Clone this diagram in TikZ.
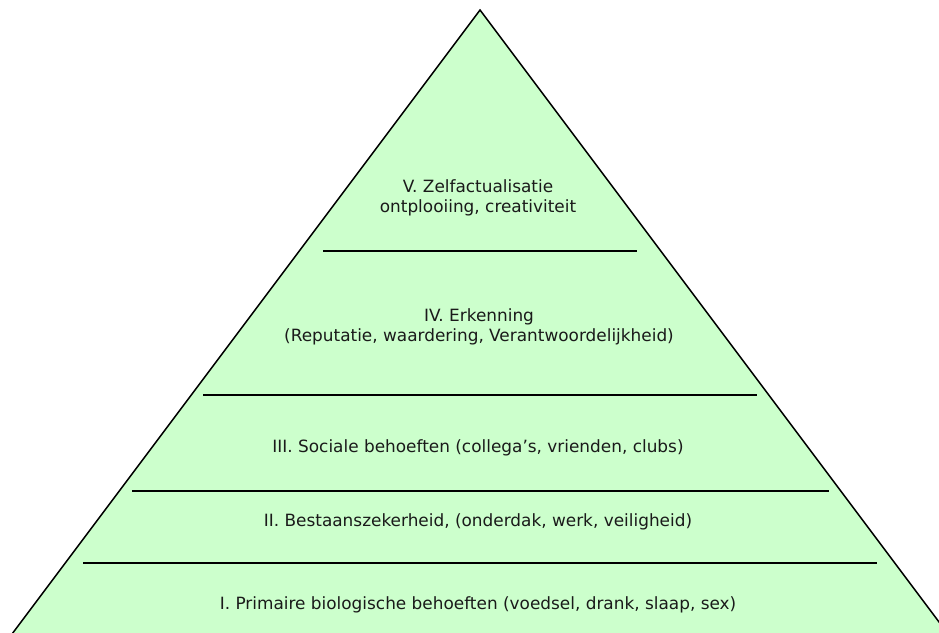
\documentclass[tikz,border=0pt]{standalone}
\usepackage{fontspec}
\setmainfont{DejaVu Sans}
\definecolor{pyrfill}{HTML}{CCFFCC}
\definecolor{inkc}{HTML}{1A1A1A}
\begin{document}
\begin{tikzpicture}[x=1pt,y=-1pt,
  level/.style={font=\fontsize{16.9}{19.5}\selectfont, text=inkc, align=center, inner sep=0pt},
  divider/.style={draw=black, line width=2pt}]
\useasboundingbox (0,0) rectangle (939,632);
\clip (0,0) rectangle (939,632);
% pyramid body
\coordinate (apex) at (480,10);
\coordinate (bl) at (12,634);
\coordinate (br) at (948,634);
\filldraw[fill=pyrfill, draw=black, line width=1.5pt, line join=miter] (bl) -- (apex) -- (br);
% dividers between levels
\coordinate (d1l) at (323,251); \coordinate (d1r) at (637,251);
\coordinate (d2l) at (203,395); \coordinate (d2r) at (757,395);
\coordinate (d3l) at (132,491); \coordinate (d3r) at (829,491);
\coordinate (d4l) at (83,563);  \coordinate (d4r) at (877,563);
\draw[divider] (d1l) -- (d1r);
\draw[divider] (d2l) -- (d2r);
\draw[divider] (d3l) -- (d3r);
\draw[divider] (d4l) -- (d4r);
% level labels
\node[level] (v) at (478,198) {V. Zelfactualisatie\\ontplooiing, creativiteit};
\node[level] (iv) at (479,327) {IV. Erkenning\\(Reputatie, waardering, Verantwoordelijkheid)};
\node[level] (iii) at (478,448) {III. Sociale behoeften (collega’s, vrienden, clubs)};
\node[level] (ii) at (478,522) {II. Bestaanszekerheid, (onderdak, werk, veiligheid)};
\node[level] (i) at (478,605) {I. Primaire biologische behoeften (voedsel, drank, slaap, sex)};
\end{tikzpicture}
\end{document}
